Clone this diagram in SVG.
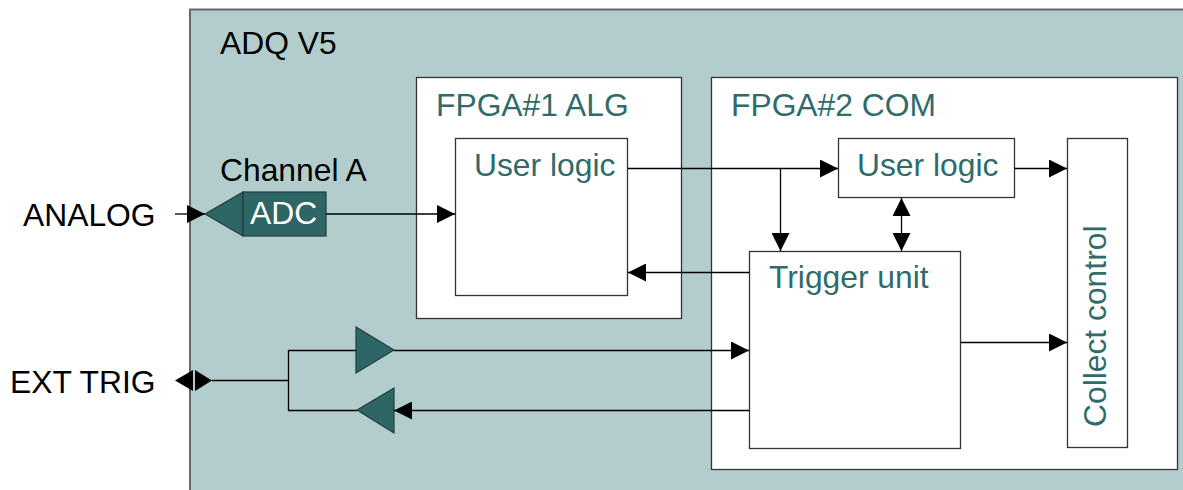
<svg xmlns="http://www.w3.org/2000/svg" width="1183" height="490" viewBox="0 0 1183 490">
<defs>
<marker id="ah" markerUnits="userSpaceOnUse" markerWidth="18" markerHeight="18" refX="18" refY="9" orient="auto" viewBox="0 0 18 18">
<path d="M0,0 L18,9 L0,18 z" fill="#000"/>
</marker>
<marker id="ahs" markerUnits="userSpaceOnUse" markerWidth="18" markerHeight="18" refX="18" refY="9" orient="auto-start-reverse" viewBox="0 0 18 18">
<path d="M0,0 L18,9 L0,18 z" fill="#000"/>
</marker>
</defs>
<style>
text{font-family:"Liberation Sans",Arial,sans-serif;font-size:31.8px}
.t{fill:#2f6b6b}
.k{fill:#000}
.box{fill:#fff;stroke:#333;stroke-width:1.3}
.ln{fill:none;stroke:#000;stroke-width:1.3}
.buf{fill:#2e6565;stroke:#1e3e3e;stroke-width:1.2}
</style>
<rect width="1183" height="490" fill="#fff"/>
<g id="adq">
<rect x="190" y="9.5" width="1010" height="500" fill="#b3cdcd" stroke="#666" stroke-width="2"/>
<text x="220" y="54" class="k">ADQ V5</text>
</g>
<g id="fpga1">
<rect x="416.5" y="77.5" width="265" height="241" class="box"/>
<text x="436" y="116" class="t">FPGA#1 ALG</text>
</g>
<g id="fpga2">
<rect x="711.5" y="77.5" width="466" height="392" class="box"/>
<text x="731" y="116" class="t">FPGA#2 COM</text>
</g>
<g id="userlogic1">
<rect x="455.5" y="138.5" width="172" height="157" class="box"/>
<text x="474" y="176" class="t">User logic</text>
</g>
<g id="userlogic2">
<rect x="838.5" y="138.5" width="176" height="59" class="box"/>
<text x="857" y="176" class="t">User logic</text>
</g>
<g id="trigger">
<rect x="749.5" y="251.5" width="211" height="197" class="box"/>
<text x="769" y="288" class="t">Trigger unit</text>
</g>
<g id="collect">
<rect x="1067.5" y="138.5" width="60" height="309" class="box"/>
<text transform="translate(1106,427) rotate(-90)" class="t">Collect control</text>
</g>
<g id="adc">
<path d="M205,214 L243,192 L243,236 Z" class="buf"/>
<rect x="243" y="192" width="83" height="44" class="buf"/>
<text x="250" y="224" fill="#fff">ADC</text>
<text x="220" y="181" class="k">Channel A</text>
</g>
<g id="buffers">
<path d="M356,327 L394,350 L356,373 Z" class="buf"/>
<path d="M357,410 L394,388 L394,433 Z" class="buf"/>
</g>
<g id="labels">
<text x="23" y="226" class="k">ANALOG</text>
<text x="10" y="393" class="k">EXT TRIG</text>
</g>
<g id="connectors">
<line x1="175" y1="214" x2="205" y2="214" class="ln" marker-end="url(#ah)"/>
<line x1="326" y1="214" x2="455" y2="214" class="ln" marker-end="url(#ah)"/>
<line x1="628" y1="168.5" x2="838" y2="168.5" class="ln" marker-end="url(#ah)"/>
<line x1="780.5" y1="168.5" x2="780.5" y2="251" class="ln" marker-end="url(#ah)"/>
<line x1="1014" y1="168.5" x2="1067" y2="168.5" class="ln" marker-end="url(#ah)"/>
<line x1="901.5" y1="198" x2="901.5" y2="251" class="ln" marker-start="url(#ahs)" marker-end="url(#ah)"/>
<line x1="749" y1="272.5" x2="628" y2="272.5" class="ln" marker-end="url(#ah)"/>
<line x1="961" y1="342.5" x2="1067" y2="342.5" class="ln" marker-end="url(#ah)"/>
<line x1="394" y1="350.5" x2="749" y2="350.5" class="ln" marker-end="url(#ah)"/>
<line x1="749" y1="410.5" x2="394" y2="410.5" class="ln" marker-end="url(#ah)"/>
<path d="M356,350.5 H288.5 V410.5 H357" class="ln"/>
<line x1="212" y1="380.5" x2="288.5" y2="380.5" class="ln"/>
<path d="M175,380.5 L193,370 L193,391 Z" fill="#000"/>
<path d="M212,380.5 L195,370 L195,391 Z" fill="#000"/>
</g>
</svg>
